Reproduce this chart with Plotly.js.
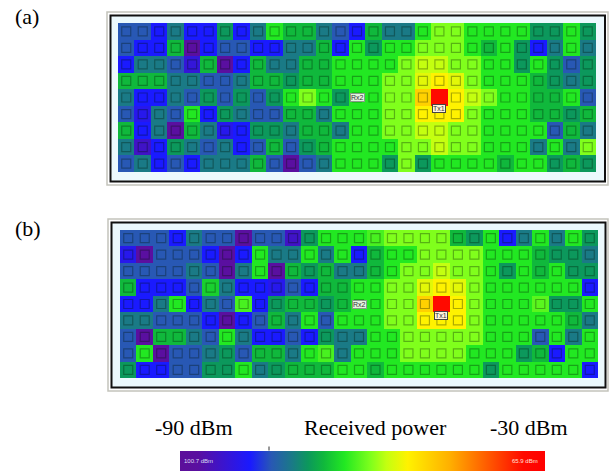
<!DOCTYPE html>
<html><head><meta charset="utf-8">
<script src="https://cdn.plot.ly/plotly-3.0.1.min.js"></script>
<style>html,body{margin:0;padding:0;background:#fff}#chart{width:609px;height:472px}</style>
</head><body><div id="chart"></div>
<script>
// grid categories
const columns = [0,1,2,3,4,5,6,7,8,9,10,11,12,13,14,15,16,17,18,19,20,21,22,23,24,25,26,27,28];
const rows = [0,1,2,3,4,5,6,7,8];

// received power (dBm), panel (a)
const powerA = [
 [-92,-92,-94,-90,-94,-94,-88.5,-94,-90,-85,-87,-87,-90,-92,-94,-87,-90,-90,-85,-82.5,-82.5,-85,-85,-85,-85,-88.5,-88.5,-85,-88.5],
 [-92,-94,-94,-87,-99,-94,-92,-92,-94,-94,-90,-90,-87,-94,-85,-88.5,-85,-85,-82.5,-82.5,-82.5,-85,-87,-85,-88.5,-94,-90,-85,-90],
 [-94,-90,-90,-92,-96,-87,-99,-94,-87,-90,-90,-87,-87,-85,-85,-85,-85,-82.5,-81,-81,-82.5,-82.5,-85,-85,-88.5,-85,-88.5,-92,-88.5],
 [-87,-87,-87,-90,-90,-92,-92,-90,-87,-87,-88.5,-87,-87,-85,-85,-85,-82.5,-82.5,-80,-79,-80,-82.5,-85,-85,-85,-87,-88.5,-90,-88.5],
 [-90,-94,-94,-90,-92,-88.5,-92,-88.5,-92,-88.5,-85,-82.5,-85,-88.5,-85,-85,-82.5,-82.5,-77,-68,-79,-81,-82.5,-85,-85,-87,-87,-85,-92],
 [-92,-95,-90,-92,-85,-94,-88.5,-90,-92,-92,-87,-87,-90,-85,-85,-85,-82.5,-82.5,-79,-79,-79,-82.5,-85,-85,-85,-87,-87,-88.5,-87],
 [-87,-94,-90,-99,-87,-90,-95,-94,-88.5,-88.5,-90,-87,-87,-90,-85,-85,-82.5,-82.5,-81,-81,-82.5,-82.5,-85,-85,-85,-85,-92,-87,-90],
 [-90,-97,-94,-88.5,-90,-92,-90,-94,-92,-87,-92,-88.5,-87,-85,-85,-85,-85,-82.5,-82.5,-81,-82.5,-82.5,-85,-85,-85,-90,-85,-90,-82.5],
 [-92,-90,-94,-92,-94,-90,-90,-90,-87,-92,-99,-92,-90,-85,-85,-85,-88.5,-82.5,-88.5,-85,-85,-85,-85,-87,-85,-85,-88.5,-87,-88.5]
];

// received power (dBm), panel (b)
const powerB = [
 [-92,-92,-92,-94,-90,-92,-92,-99,-92,-92,-97,-88.5,-85,-85,-85,-84,-82.5,-82.5,-82.5,-82.5,-87,-88.5,-85,-94,-90,-85,-90,-85,-88.5],
 [-95,-99,-92,-92,-92,-94,-99,-94,-85,-90,-90,-85,-90,-85,-94,-87,-85,-85,-82.5,-82.5,-82.5,-82.5,-85,-85,-85,-87,-88.5,-88.5,-90],
 [-92,-92,-92,-92,-90,-92,-99,-90,-85,-99,-87,-88.5,-87,-90,-90,-87,-85,-82.5,-82.5,-81,-82.5,-82.5,-85,-88.5,-85,-87,-85,-88.5,-88.5],
 [-87,-94,-94,-94,-92,-86,-90,-94,-94,-95,-92,-94,-87,-87,-85,-85,-82.5,-82.5,-80,-79,-80,-82.5,-85,-85,-85,-85,-85,-85,-94],
 [-94,-94,-90,-85,-94,-90,-92,-84,-94,-88.5,-87,-87,-88.5,-87,-85,-85,-82.5,-82.5,-77,-68,-79,-82.5,-85,-85,-85,-83.5,-88.5,-88.5,-85],
 [-90,-90,-92,-92,-92,-94,-99,-94,-92,-87,-90,-85,-92,-85,-85,-85,-82.5,-82.5,-79,-79,-79,-82.5,-85,-85,-85,-85,-85,-87,-90],
 [-92,-99,-87,-87,-90,-92,-85,-90,-94,-94,-92,-94,-88.5,-90,-90,-85,-85,-82.5,-82.5,-82.5,-82.5,-82.5,-85,-85,-85,-92,-85,-90,-85],
 [-92,-85,-99,-92,-92,-90,-88.5,-92,-87,-87,-90,-85,-84,-90,-85,-85,-85,-82.5,-82.5,-82.5,-82.5,-85,-85,-85,-88.5,-87,-94,-85,-85],
 [-88.5,-94,-94,-92,-92,-88.5,-88.5,-85,-90,-88.5,-87,-87,-87,-85,-85,-87,-85,-85,-85,-85,-85,-85,-88.5,-85,-85,-85,-85,-85,-94]
];

// Tx / Rx cell positions [column, row]
const txCell = [19, 4];
const rxCell = [14, 4];
const txLabel = 'Tx1';
const rxLabel = 'Rx2';

// colour bar range and labels
const powerMin = -100.7, powerMax = -65.9;
const barLabels = ['100.7 dBm', '65.9 dBm'];
const panelLabels = ['(a)', '(b)'];
const scaleTexts = ['-90 dBm', 'Received power', '-30 dBm'];

const colorscale = [
 [0, '#5c0f9a'], [0.049, '#5a0fa0'], [0.1925, '#1a1aff'], [0.25, '#2858b4'],
 [0.3075, '#1a7a86'], [0.3506, '#0c985c'], [0.3937, '#10b83c'], [0.4511, '#22e822'],
 [0.523, '#80ff1c'], [0.566, '#c4ff10'], [0.6236, '#fff200'], [0.7385, '#ffb000'],
 [0.9397, '#ff0a00'], [1, '#ff0000']
];

const W = 609, H = 472;
const px = v => v / W;
const py = v => 1 - v / H;

function squares(xa, ya) {
  const sx = [], sy = [];
  rows.forEach(r => columns.forEach(c => {
    if (c === txCell[0] && r === txCell[1]) return;
    sx.push(c); sy.push(r);
  }));
  return {type:'scatter', mode:'markers', x:sx, y:sy, xaxis:xa, yaxis:ya,
    marker:{symbol:'square-open', size:9, color:'rgba(0,20,0,0.32)', line:{width:1.2}},
    hoverinfo:'skip', showlegend:false};
}

const traces = [
  {type:'heatmap', z:powerA, x:columns, y:rows, xaxis:'x', yaxis:'y',
   colorscale, zmin:powerMin, zmax:powerMax, hoverinfo:'skip', showscale:true,
   colorbar:{orientation:'h', x:px(180), xanchor:'left', y:py(451), yanchor:'top',
     len:365, lenmode:'pixels', thickness:20, thicknessmode:'pixels',
     outlinewidth:0, showticklabels:false, ticks:'', xpad:0, ypad:0, borderwidth:0}},
  squares('x','y'),
  {type:'heatmap', z:powerB, x:columns, y:rows, xaxis:'x2', yaxis:'y2',
   colorscale, zmin:powerMin, zmax:powerMax, hoverinfo:'skip', showscale:false},
  squares('x2','y2')
];

const serif = 'Liberation Serif, Times New Roman, serif';
const ax = (d) => ({domain:d, visible:false, fixedrange:true});

function cellLabels(xr, yr) {
  return [
    {xref:xr, yref:yr, x:rxCell[0], y:rxCell[1], text:rxLabel, showarrow:false,
     bgcolor:'#e2f4de', bordercolor:'#8a9a8a', borderwidth:1, borderpad:0,
     font:{family:'Arial, sans-serif', size:7, color:'#333'}},
    {xref:xr, yref:yr, x:txCell[0], y:txCell[1], yshift:-11, text:txLabel, showarrow:false,
     bgcolor:'#fff4dc', bordercolor:'#444', borderwidth:1, borderpad:0,
     font:{family:'Arial, sans-serif', size:7, color:'#333'}}
  ];
}

const annotations = [
  {xref:'paper', yref:'paper', x:px(13), y:py(16.5), xanchor:'left', yanchor:'middle', text:panelLabels[0], showarrow:false, font:{family:serif, size:22, color:'#000'}},
  {xref:'paper', yref:'paper', x:px(13), y:py(229), xanchor:'left', yanchor:'middle', text:panelLabels[1], showarrow:false, font:{family:serif, size:22, color:'#000'}},
  {xref:'paper', yref:'paper', x:px(193.5), y:py(427), xanchor:'center', yanchor:'middle', text:scaleTexts[0], showarrow:false, font:{family:serif, size:22, color:'#000'}},
  {xref:'paper', yref:'paper', x:px(375), y:py(427), xanchor:'center', yanchor:'middle', text:scaleTexts[1], showarrow:false, font:{family:serif, size:22, color:'#000'}},
  {xref:'paper', yref:'paper', x:px(528.5), y:py(427), xanchor:'center', yanchor:'middle', text:scaleTexts[2], showarrow:false, font:{family:serif, size:22, color:'#000'}},
  {xref:'paper', yref:'paper', x:px(182), y:py(460.5), xanchor:'left', yanchor:'middle', text:barLabels[0], showarrow:false, font:{family:'Arial, sans-serif', size:6, color:'#dcdcf4'}},
  {xref:'paper', yref:'paper', x:px(540), y:py(460.5), xanchor:'right', yanchor:'middle', text:barLabels[1], showarrow:false, font:{family:'Arial, sans-serif', size:6, color:'#ffe4dc'}},
  ...cellLabels('x','y'),
  ...cellLabels('x2','y2')
];

function frame(x0, y0, x1, y1, bx0, by0, bx1, by1) {
  return [
    {type:'rect', xref:'paper', yref:'paper', layer:'below', x0:px(x0), x1:px(x1), y0:py(y0), y1:py(y1),
     line:{color:'#c4c4bc', width:1.5}, fillcolor:'#ffffff'},
    {type:'rect', xref:'paper', yref:'paper', layer:'below', x0:px(bx0), x1:px(bx1), y0:py(by0), y1:py(by1),
     line:{color:'#111', width:2}, fillcolor:'#ecf9fd'}
  ];
}

const shapes = [
  ...frame(107, 12, 608, 185, 110.5, 15.5, 605, 181.5),
  ...frame(108, 219, 608, 391, 111.5, 222.5, 605.5, 387.5),
  {type:'line', xref:'paper', yref:'paper', x0:px(269), x1:px(269), y0:py(446.5), y1:py(450.5), line:{color:'#333', width:1}}
];

const layout = {
  width:W, height:H, margin:{l:0, r:0, t:0, b:0, autoexpand:false},
  paper_bgcolor:'#ffffff', plot_bgcolor:'rgba(0,0,0,0)', showlegend:false,
  xaxis: Object.assign(ax([px(118), px(596)]), {range:[-0.5, 28.5], anchor:'y'}),
  yaxis: Object.assign(ax([py(172), py(23)]), {range:[8.5, -0.5], anchor:'x'}),
  xaxis2: Object.assign(ax([px(120), px(598)]), {range:[-0.5, 28.5], anchor:'y2'}),
  yaxis2: Object.assign(ax([py(378), py(230)]), {range:[8.5, -0.5], anchor:'x2'}),
  annotations, shapes
};

Plotly.newPlot('chart', traces, layout, {displayModeBar:false, staticPlot:true});
</script>
</body></html>
